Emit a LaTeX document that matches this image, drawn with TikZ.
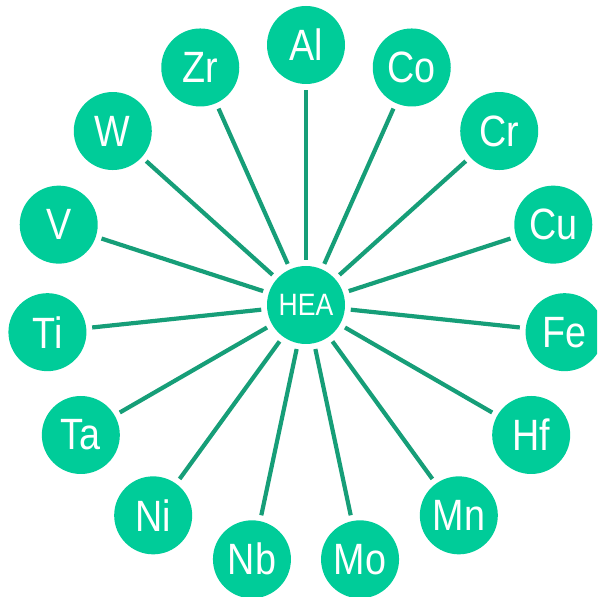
\documentclass[tikz,border=0pt]{standalone}
\usepackage{fontspec}
\setmainfont{Liberation Sans}[FakeStretch=0.86]
\definecolor{nodegreen}{HTML}{00CC99}
\definecolor{linkgreen}{HTML}{169E78}
\begin{document}
\begin{tikzpicture}[x=1bp,y=1bp,
  elem/.style={circle,fill=nodegreen,text=white,minimum size=78bp,inner sep=0pt,outer sep=6bp,font=\fontsize{44}{44}\selectfont},
  hub/.style={elem,font=\fontsize{31}{31}\selectfont},
  link/.style={draw=linkgreen,line width=4.2bp}]
\useasboundingbox (0,0) rectangle (597,597);
\clip (0,0) rectangle (597,597);
\node[hub] (hea) at (306,292) {HEA};
\foreach \name [count=\i from 0] in {Al,Co,Cr,Cu,Fe,Hf,Mn,Mo,Nb,Ni,Ta,Ti,V,W,Zr}{
  \pgfmathsetmacro\ang{90-24*\i}
  \node[elem] (\name) at ([shift={(\ang:260)}]hea.center) {\name};
  \draw[link] (hea) -- (\name);
}
\end{tikzpicture}
\end{document}
